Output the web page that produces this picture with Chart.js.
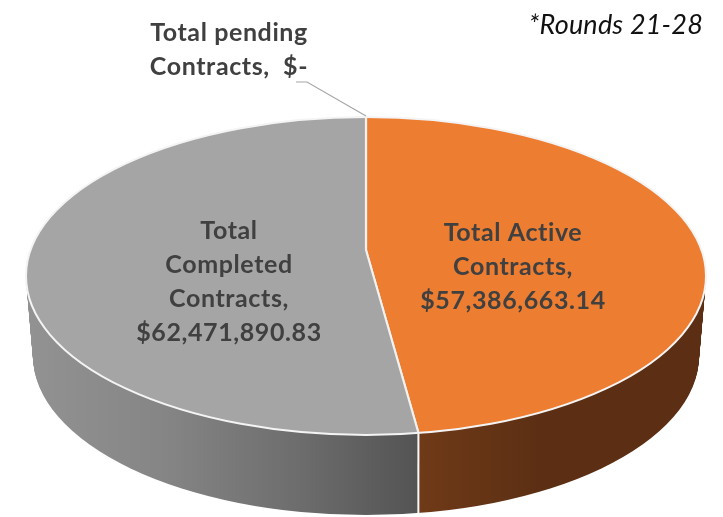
<!DOCTYPE html>
<html>
<head>
<meta charset="utf-8">
<style>html,body{margin:0;padding:0;background:#fff}canvas{display:block}</style>
<script src="https://cdn.jsdelivr.net/npm/chart.js@4"></script>
</head>
<body>
<canvas id="c" width="723" height="517"></canvas>
<script>
const categories = ['Total pending Contracts', 'Total Active Contracts', 'Total Completed Contracts'];
const values = [0, 57386663.14, 62471890.83];
const sliceColors = ['#4472C4', '#ED7D31', '#A5A5A5'];
const note = '*Rounds 21-28';
const pendingLines = ['Total pending', 'Contracts,  $-'];
const activeLines = ['Total Active', 'Contracts,', '$57,386,663.14'];
const completedLines = ['Total', 'Completed', 'Contracts,', '$62,471,890.83'];

// Projection of the flat pie onto the tilted disc
const disc = {cx: 366, cy: 276, rx: 340, ry: 159, apexY: 250, depth: 80, shrink: 7, reach: 400};

const tilt = {
  id: 'tilt',
  place(ctx, arc, dy) {
    const sx = disc.reach / arc.outerRadius;
    const sy = sx * disc.ry / disc.rx;
    ctx.translate(disc.cx, disc.apexY + dy);
    ctx.scale(sx, sy);
    ctx.translate(-arc.x, -arc.y);
  },
  clipDisc(ctx, dy, shrink) {
    ctx.beginPath();
    ctx.ellipse(disc.cx, disc.cy + dy, disc.rx - shrink, disc.ry, 0, 0, Math.PI * 2);
    ctx.clip();
  },
  beforeDatasetsDraw(chart) {
    const ctx = chart.ctx;
    const arcs = chart.getDatasetMeta(0).data;
    const ref = arcs[0];
    const sx = disc.reach / ref.outerRadius;
    const toUser = X => ref.x + (X - disc.cx) / sx;
    const grayWall = ctx.createLinearGradient(toUser(30), 0, toUser(420), 0);
    grayWall.addColorStop(0, '#929292');
    grayWall.addColorStop(0.35, '#858585');
    grayWall.addColorStop(0.7, '#6c6c6c');
    grayWall.addColorStop(1, '#535353');
    const brownWall = ctx.createLinearGradient(toUser(420), 0, toUser(540), 0);
    brownWall.addColorStop(0, '#6F3A17');
    brownWall.addColorStop(1, '#5C2F14');
    const walls = [brownWall, brownWall, grayWall];
    for (let i = disc.depth; i >= 1; i--) {
      ctx.save();
      this.clipDisc(ctx, i, disc.shrink * i / disc.depth);
      this.place(ctx, ref, i);
      arcs.forEach((arc, k) => {
        const saved = arc.options;
        arc.options = Object.assign({}, saved, {backgroundColor: walls[k], borderColor: '#ffffff', borderWidth: 1.2});
        arc.draw(ctx);
        arc.options = saved;
      });
      ctx.restore();
    }
    ctx.save();
    this.clipDisc(ctx, 0, 0);
    this.place(ctx, ref, 0);
  },
  afterDatasetsDraw(chart) {
    const ctx = chart.ctx;
    ctx.restore();
    ctx.save();
    ctx.strokeStyle = '#f4f4f4';
    ctx.lineWidth = 2;
    ctx.beginPath();
    ctx.ellipse(disc.cx, disc.cy, disc.rx, disc.ry, 0, 0, Math.PI * 2);
    ctx.stroke();
    ctx.strokeStyle = '#A6A6A6';
    ctx.lineWidth = 1.2;
    ctx.beginPath();
    ctx.moveTo(296, 82);
    ctx.lineTo(307, 82);
    ctx.lineTo(366, 116);
    ctx.stroke();
    ctx.textAlign = 'center';
    ctx.textBaseline = 'middle';
    ctx.fillStyle = '#404040';
    ctx.font = 'bold 25px Lato';
    ctx.letterSpacing = '0.6px';
    const put = (lines, x, y) => lines.forEach((t, i) => ctx.fillText(t, x, y + i * 34));
    put(pendingLines, 229, 33);
    put(completedLines, 229, 231);
    put(activeLines, 513, 233);
    ctx.fillStyle = '#111111';
    ctx.font = 'italic 27px Lato';
    ctx.letterSpacing = '0.2px';
    ctx.textAlign = 'right';
    ctx.fillText(note, 703, 25);
    ctx.restore();
  }
};

new Chart(document.getElementById('c'), {
  type: 'pie',
  data: {
    labels: categories,
    datasets: [{data: values, backgroundColor: sliceColors, borderColor: '#f2f2f2', borderWidth: 1.4, clip: false}]
  },
  options: {
    responsive: false,
    animation: false,
    layout: {padding: 0},
    plugins: {legend: {display: false}, tooltip: {enabled: false}}
  },
  plugins: [tilt]
});
</script>
</body>
</html>
